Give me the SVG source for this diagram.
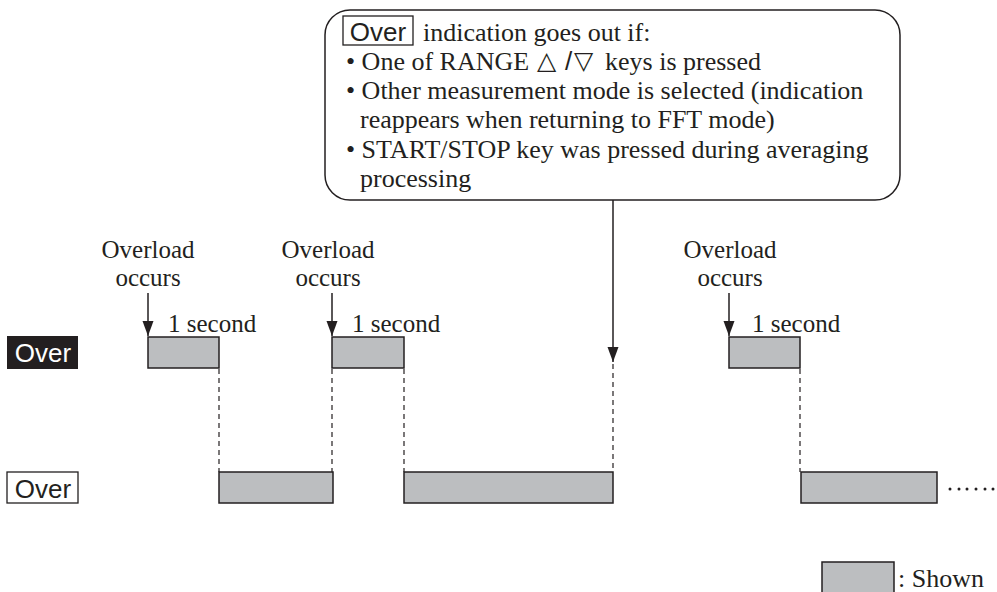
<svg xmlns="http://www.w3.org/2000/svg" width="997" height="592" viewBox="0 0 997 592">
<style>
.serif{font-family:"Liberation Serif","Times New Roman",serif;font-size:26px;fill:#231f20}
.lbl{font-family:"Liberation Serif","Times New Roman",serif;font-size:25px;fill:#231f20}
.sym{font-family:"DejaVu Sans",sans-serif;font-size:25px;fill:#231f20}
.sans{font-family:"Liberation Sans",Arial,sans-serif;font-size:26px}
.bar{fill:#bcbec0;stroke:#231f20;stroke-width:1.5}
.dash{stroke:#231f20;stroke-width:1.2;stroke-dasharray:5,4;fill:none}
.conn{stroke:#231f20;stroke-width:1.5;fill:none}
.frame{fill:#fff;stroke:#231f20;stroke-width:1.5}
</style>
<defs>
<marker id="ah" markerUnits="userSpaceOnUse" markerWidth="16" markerHeight="12" refX="15" refY="6" orient="auto">
<path d="M0,0.5 L15,6 L0,11.5 z" fill="#231f20"/>
</marker>
</defs>
<rect width="997" height="592" fill="#fff"/>

<g id="callout">
<rect class="frame" x="325" y="10" width="575" height="190" rx="25"/>
<rect x="343" y="16" width="70" height="29" fill="#fff" stroke="#231f20" stroke-width="1.3"/>
<text class="sans" x="378" y="41" text-anchor="middle" fill="#231f20" font-size="25">Over</text>
<text class="serif" x="423" y="41">indication goes out if:</text>
<text class="serif" x="346" y="70">• One of RANGE</text>
<text class="sym" x="537" y="69">△</text>
<text class="sans" x="565" y="70" fill="#231f20" font-size="22">/</text>
<text class="sym" x="574" y="69">▽</text>
<text class="serif" x="605" y="70">keys is pressed</text>
<text class="serif" x="346" y="99">• Other measurement mode is selected (indication</text>
<text class="serif" x="360" y="128">reappears when returning to FFT mode)</text>
<text class="serif" x="346" y="158">• START/STOP key was pressed during averaging</text>
<text class="serif" x="360" y="187">processing</text>
</g>

<g id="label-over-shown">
<rect x="7" y="336" width="71" height="33" fill="#231f20"/>
<text class="sans" x="43" y="362" text-anchor="middle" fill="#fff">Over</text>
</g>
<g id="label-over-outline">
<rect x="7" y="472" width="71" height="31" fill="#fff" stroke="#231f20" stroke-width="1.3"/>
<text class="sans" x="43" y="498" text-anchor="middle" fill="#231f20">Over</text>
</g>

<g id="event1">
<text class="lbl" x="148" y="258" text-anchor="middle">Overload</text>
<text class="lbl" x="148" y="286" text-anchor="middle">occurs</text>
<text class="lbl" x="168" y="332">1 second</text>
</g>
<g id="event2">
<text class="lbl" x="328" y="258" text-anchor="middle">Overload</text>
<text class="lbl" x="328" y="286" text-anchor="middle">occurs</text>
<text class="lbl" x="352" y="332">1 second</text>
</g>
<g id="event3">
<text class="lbl" x="730" y="258" text-anchor="middle">Overload</text>
<text class="lbl" x="730" y="286" text-anchor="middle">occurs</text>
<text class="lbl" x="752" y="332">1 second</text>
</g>

<g id="top-bars">
<rect class="bar" x="148" y="337" width="71" height="31"/>
<rect class="bar" x="332" y="337" width="72" height="31"/>
<rect class="bar" x="729" y="337" width="71" height="31"/>
</g>
<g id="bottom-bars">
<rect class="bar" x="219" y="472" width="114" height="31"/>
<rect class="bar" x="404" y="472" width="209" height="31"/>
<rect class="bar" x="801" y="472" width="136" height="31"/>
<g fill="#231f20">
<circle cx="950" cy="489" r="1.5"/><circle cx="959" cy="489" r="1.5"/><circle cx="967" cy="489" r="1.5"/>
<circle cx="976" cy="489" r="1.5"/><circle cx="985" cy="489" r="1.5"/><circle cx="993" cy="489" r="1.5"/>
</g>
</g>

<g id="connectors">
<line class="conn" x1="148" y1="293" x2="148" y2="336" marker-end="url(#ah)"/>
<line class="conn" x1="332" y1="293" x2="332" y2="336" marker-end="url(#ah)"/>
<line class="conn" x1="729" y1="293" x2="729" y2="336" marker-end="url(#ah)"/>
<line class="conn" x1="613" y1="200" x2="613" y2="362" marker-end="url(#ah)"/>
<line class="dash" x1="219" y1="369" x2="219" y2="472"/>
<line class="dash" x1="332" y1="369" x2="332" y2="472"/>
<line class="dash" x1="404" y1="369" x2="404" y2="472"/>
<line class="dash" x1="613" y1="364" x2="613" y2="472"/>
<line class="dash" x1="800" y1="369" x2="800" y2="472"/>
</g>

<g id="legend">
<rect class="bar" x="822" y="562" width="72" height="34"/>
<text class="serif" x="898" y="587">: Shown</text>
</g>
</svg>
